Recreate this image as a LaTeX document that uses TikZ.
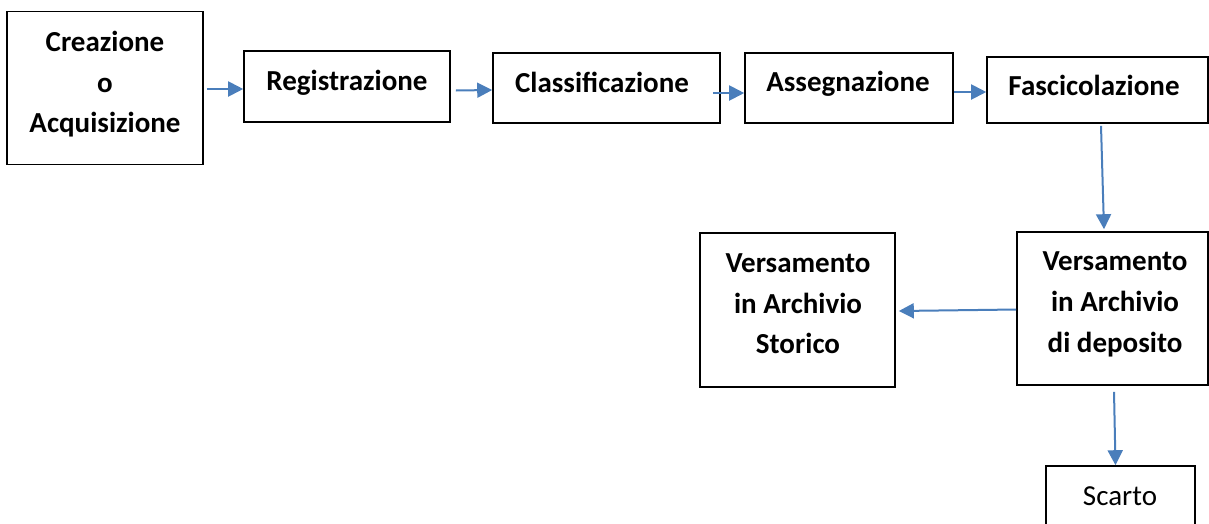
\documentclass[tikz,border=0pt]{standalone}
\usepackage{fontspec}
\setmainfont{Carlito}
\usetikzlibrary{arrows.meta,calc}
\definecolor{arrblue}{HTML}{4A7EBB}
\tikzset{
  box/.style={draw=black, line width=1.6pt, rectangle, inner sep=0pt, fill=none},
  lbl/.style={anchor=base, inner sep=0pt, font=\fontsize{29}{41}\selectfont\bfseries},
  lblr/.style={anchor=base, inner sep=0pt, font=\fontsize{29}{41}\selectfont},
  arr/.style={draw=arrblue, line width=2pt, -{Triangle[length=15pt,width=15pt]}}
}
\begin{document}
\begin{tikzpicture}[x=1pt,y=-1pt]
\useasboundingbox (0,0) rectangle (1209,523);
% boxes
\node[box, minimum width=196pt, minimum height=153pt] (b1) at (105,88) {};
\node[box, minimum width=206pt, minimum height=71pt] (b2) at (347,86.5) {};
\node[box, minimum width=227pt, minimum height=70pt] (b3) at (606.5,88) {};
\node[box, minimum width=208pt, minimum height=70pt] (b4) at (849,88) {};
\node[box, minimum width=221pt, minimum height=66pt] (b5) at (1097.5,90) {};
\node[box, minimum width=195pt, minimum height=154pt] (b6) at (797.5,310) {};
\node[box, minimum width=191pt, minimum height=153pt] (b7) at (1112.5,308.5) {};
\node[box, minimum width=149pt, minimum height=64pt] (b8) at (1120.5,498) {};
% texts
\node[lbl] (t1a) at (105,51) {Creazione};
\node[lbl] (t1b) at (105,92) {o};
\node[lbl] (t1c) at (105,132) {Acquisizione};
\node[lbl] (t2) at (347,90) {Registrazione};
\node[lbl] (t3) at (602,92) {Classificazione};
\node[lbl] (t4) at (848,91) {Assegnazione};
\node[lbl] (t5) at (1094,95) {Fascicolazione};
\node[lbl] (t6a) at (798,272) {Versamento};
\node[lbl] (t6b) at (798,313) {in Archivio};
\node[lbl] (t6c) at (798,353) {Storico};
\node[lbl] (t7a) at (1115,270) {Versamento};
\node[lbl] (t7b) at (1115,311) {in Archivio};
\node[lbl] (t7c) at (1115,352) {di deposito};
\node[lblr] (t8) at (1120,505) {Scarto};
% arrows
\draw[arr] ([shift={(3,1)}]b1.east) -- ([shift={(0,2.5)}]b2.west);
\draw[arr] ([shift={(5,4)}]b2.east) -- ([shift={(0,2)}]b3.west);
\draw[arr] ([shift={(-8,5)}]b3.east) -- ([shift={(0,5)}]b4.west);
\draw[arr] ([shift={(0,4)}]b4.east) -- ([shift={(0,2)}]b5.west);
\draw[arr] ([shift={(3.5,2)}]b5.south) -- ([shift={(-8.5,-2)}]b7.north);
\draw[arr] ([shift={(0,1)}]b7.west) -- ([shift={(3,1)}]b6.east);
\draw[arr] ([shift={(1.5,6)}]b7.south) -- ([shift={(-5,0)}]b8.north);
\end{tikzpicture}
\end{document}
